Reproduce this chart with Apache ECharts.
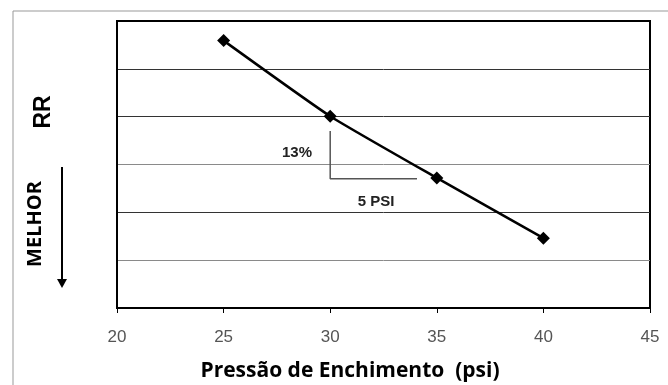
<!DOCTYPE html>
<html>
<head>
<meta charset="utf-8">
<script src="https://cdn.jsdelivr.net/npm/echarts@6/dist/echarts.min.js"></script>
<style>
  html, body { margin: 0; padding: 0; background: #fff; }
  #chart { width: 668px; height: 385px; }
</style>
</head>
<body>
<div id="chart"></div>
<script>
// pressão (psi) e RR (escala relativa, sem rótulos)
const pressures = [25, 30, 35, 40]
const rrValues = [5.59, 4.01, 2.72, 1.46]
const xTicks = [20, 25, 30, 35, 40, 45]
// triângulo de inclinação: 13% / 5 PSI
const slopeX = [30, 30, 34.07]
const slopeY = [3.70, 2.70, 2.70]

const chart = echarts.init(document.getElementById('chart'))

const option = {
  animation: false,
  grid: {
    left: 117,
    top: 21,
    right: 18,
    bottom: 77,
    show: true,
    borderColor: '#000',
    borderWidth: 2
  },
  xAxis: {
    type: 'value',
    min: xTicks[0],
    max: xTicks[xTicks.length - 1],
    interval: 5,
    axisLine: { show: true, lineStyle: { color: '#000', width: 2 } },
    axisTick: { show: true, inside: false, length: 5, lineStyle: { color: '#000', width: 1 } },
    axisLabel: {
      margin: 21,
      color: '#555',
      fontSize: 17,
      fontFamily: 'Liberation Sans, Arial, sans-serif'
    },
    splitLine: { show: false }
  },
  yAxis: {
    type: 'value',
    min: 0,
    max: 6,
    interval: 1,
    axisLine: { show: true, lineStyle: { color: '#000', width: 2 } },
    axisTick: { show: false },
    axisLabel: { show: false },
    splitLine: {
      show: true,
      lineStyle: {
        width: 1,
        color: ['#000', '#8a8a8a', '#333', '#8a8a8a', '#333', '#333', '#000']
      }
    }
  },
  series: [
    {
      name: 'RR',
      type: 'line',
      data: pressures.map((p, i) => [p, rrValues[i]]),
      smooth: 0.15,
      symbol: 'diamond',
      symbolSize: 13,
      itemStyle: { color: '#000' },
      lineStyle: { color: '#000', width: 2.5 },
      z: 5
    },
    {
      name: 'slope',
      type: 'line',
      data: slopeX.map((x, i) => [x, slopeY[i]]),
      symbol: 'none',
      lineStyle: { color: '#555', width: 1.5 },
      z: 3
    }
  ],
  graphic: [
    // moldura externa
    {
      type: 'rect',
      shape: { x: 13, y: 11, width: 700, height: 400 },
      style: { fill: 'none', stroke: '#999', lineWidth: 1 },
      z: -1
    },
    {
      type: 'text',
      x: 297, y: 153,
      style: {
        text: '13%', fill: '#222', font: 'bold 15px Liberation Sans, Arial, sans-serif',
        textAlign: 'center', textVerticalAlign: 'middle'
      }
    },
    {
      type: 'text',
      x: 376, y: 202,
      style: {
        text: '5 PSI', fill: '#222', font: 'bold 15px Liberation Sans, Arial, sans-serif',
        textAlign: 'center', textVerticalAlign: 'middle'
      }
    },
    {
      type: 'text',
      x: 44, y: 112,
      rotation: Math.PI / 2,
      style: {
        text: 'RR', fill: '#000', font: 'bold 23px Liberation Sans, Arial, sans-serif',
        textAlign: 'center', textVerticalAlign: 'middle'
      }
    },
    {
      type: 'text',
      x: 35, y: 224,
      rotation: Math.PI / 2,
      style: {
        text: 'MELHOR', fill: '#000', font: 'bold 20px Open Sans, sans-serif',
        textAlign: 'center', textVerticalAlign: 'middle'
      }
    },
    {
      type: 'line',
      shape: { x1: 62, y1: 167, x2: 62, y2: 281 },
      style: { stroke: '#000', lineWidth: 2 }
    },
    {
      type: 'polygon',
      shape: { points: [[57, 279], [67, 279], [62, 288]] },
      style: { fill: '#000' }
    },
    {
      type: 'text',
      x: 350, y: 371,
      style: {
        text: 'Pressão de Enchimento  (psi)', fill: '#000',
        font: 'bold 21px Open Sans, sans-serif',
        textAlign: 'center', textVerticalAlign: 'middle'
      }
    }
  ]
}

chart.setOption(option)
</script>
</body>
</html>
